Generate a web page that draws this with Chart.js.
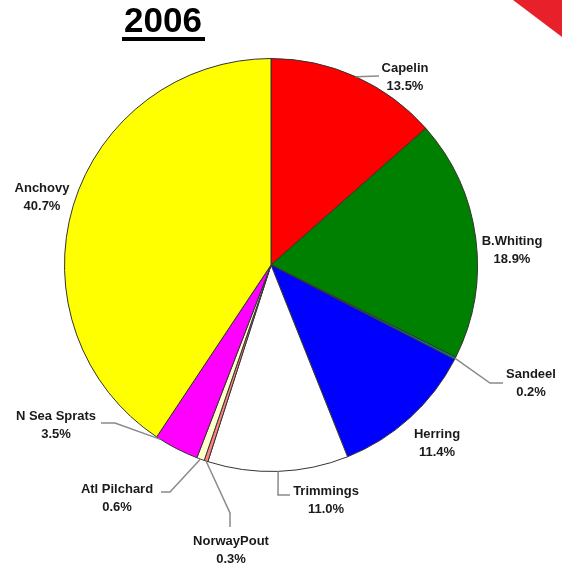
<!DOCTYPE html>
<html>
<head>
<meta charset="utf-8">
<script src="https://cdn.jsdelivr.net/npm/chart.js@4/dist/chart.umd.min.js"></script>
<style>
  html, body { margin: 0; padding: 0; background: #fff; }
  #wrap { position: relative; width: 562px; height: 568px; }
</style>
</head>
<body>
<div id="wrap"><canvas id="pieChart" width="562" height="568"></canvas></div>
<script>
// data
const chartTitle = '2006';
const species = ['Capelin', 'B.Whiting', 'Sandeel', 'Herring', 'Trimmings', 'NorwayPout', 'Atl Pilchard', 'N Sea Sprats', 'Anchovy'];
const shares = [13.5, 18.9, 0.2, 11.4, 11.0, 0.3, 0.6, 3.5, 40.7];
const sliceColors = ['#FF0000', '#008000', '#008080', '#0000FF', '#FFFFFF', '#FF8080', '#FFFFCC', '#FF00FF', '#FFFF00'];

// where each label sits (text centre), where its leader touches the slice
// (fraction along the arc) and the bends of the leader line, if any
const labelSpots = [
    { x: 405, y: 68,  at: 0.5, line: [[379, 76]] },
    { x: 512, y: 241, at: 0.5, line: null },
    { x: 531, y: 374, at: 0.5, line: [[490, 383], [503, 383]] },
    { x: 437, y: 434, at: 0.5, line: null },
    { x: 326, y: 491, at: 0.5, line: [[278, 495], [290, 495]] },
    { x: 231, y: 541, at: 0.5, line: [[230, 513], [230, 527]] },
    { x: 117, y: 489, at: 0.5, line: [[170, 492], [161, 492]] },
    { x: 56,  y: 416, at: 0.9, line: [[115, 423], [101, 423]] },
    { x: 42,  y: 188, at: 0.5, line: null }
];

// title, corner decoration, labels and leader lines
const outLabels = {
    id: 'outLabels',
    afterDraw(chart) {
        const ctx = chart.ctx;
        ctx.save();

        // red corner shape
        ctx.fillStyle = '#E8202A';
        ctx.beginPath();
        ctx.moveTo(513, 0);
        ctx.lineTo(562, 0);
        ctx.lineTo(562, 37);
        ctx.closePath();
        ctx.fill();

        // title
        ctx.fillStyle = '#000';
        ctx.font = 'bold 35px Arial, "Liberation Sans", sans-serif';
        ctx.textAlign = 'center';
        ctx.textBaseline = 'alphabetic';
        ctx.fillText(chartTitle, 163, 32);
        ctx.fillRect(122, 37, 83, 4);

        const meta = chart.getDatasetMeta(0);
        meta.data.forEach((arc, i) => {
            const spot = labelSpots[i];
            const ang = arc.startAngle + spot.at * (arc.endAngle - arc.startAngle);
            const ax = arc.x + Math.cos(ang) * arc.outerRadius;
            const ay = arc.y + Math.sin(ang) * arc.outerRadius;

            if (spot.line) {
                ctx.strokeStyle = '#8a8a8a';
                ctx.lineWidth = 1.5;
                ctx.beginPath();
                ctx.moveTo(ax, ay);
                spot.line.forEach(p => ctx.lineTo(p[0], p[1]));
                ctx.stroke();
            }

            ctx.fillStyle = '#1a1a1a';
            ctx.font = 'bold 13px Arial, "Liberation Sans", sans-serif';
            ctx.textAlign = 'center';
            ctx.textBaseline = 'middle';
            ctx.fillText(species[i], spot.x, spot.y);
            ctx.fillText(shares[i].toFixed(1) + '%', spot.x, spot.y + 18);
        });
        ctx.restore();
    }
};

const ctxPie = document.getElementById('pieChart').getContext('2d');
new Chart(ctxPie, {
    type: 'pie',
    data: {
        labels: species,
        datasets: [{
            data: shares,
            backgroundColor: sliceColors,
            borderColor: '#333333',
            borderWidth: 1,
            hoverOffset: 0
        }]
    },
    options: {
        responsive: false,
        animation: false,
        layout: { padding: { left: 64, right: 84, top: 58, bottom: 96 } },
        plugins: {
            legend: { display: false },
            tooltip: { enabled: false }
        }
    },
    plugins: [outLabels]
});
</script>
</body>
</html>
